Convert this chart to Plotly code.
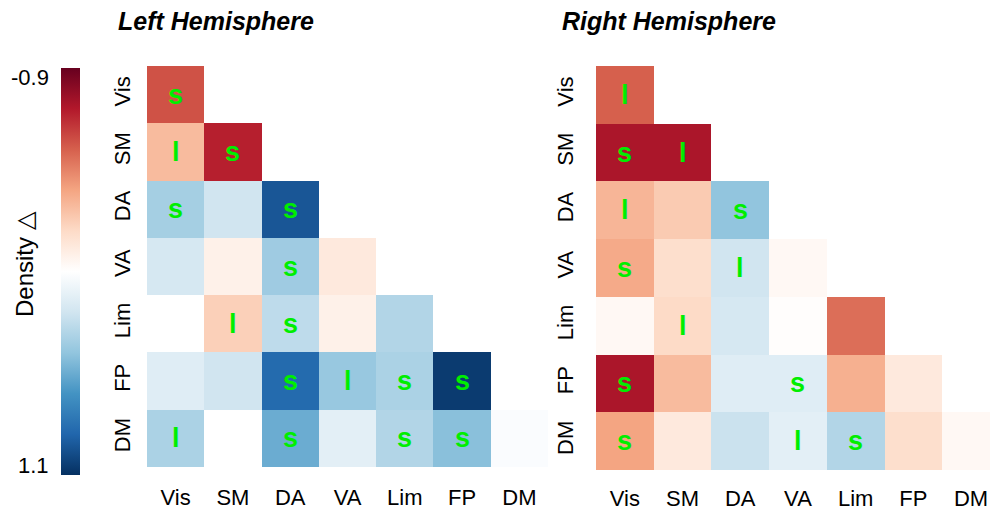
import plotly.graph_objects as go

networks = ["Vis", "SM", "DA", "VA", "Lim", "FP", "DM"]

# Density delta (lower triangle, row by row); -0.9 = dark red, 1.1 = dark blue
left_vals = [
    [-0.54],
    [-0.22, -0.68],
    [0.44, 0.30, 0.96],
    [0.28, 0.02, 0.46, -0.02],
    [0.10, -0.14, 0.36, 0.02, 0.40],
    [0.24, 0.30, 0.88, 0.48, 0.42, 1.06],
    [0.42, 0.10, 0.60, 0.22, 0.40, 0.52, 0.12],
]
right_vals = [
    [-0.50],
    [-0.72, -0.72],
    [-0.24, -0.16, 0.50],
    [-0.28, -0.08, 0.30, 0.06],
    [0.06, -0.10, 0.28, 0.09, -0.46],
    [-0.72, -0.22, 0.24, 0.24, -0.26, -0.02],
    [-0.30, -0.02, 0.32, 0.22, 0.40, -0.08, 0.06],
]
left_marks = [
    ["s"],
    ["l", "s"],
    ["s", "", "s"],
    ["", "", "s", ""],
    ["", "l", "s", "", ""],
    ["", "", "s", "l", "s", "s"],
    ["l", "", "s", "", "s", "s", ""],
]
right_marks = [
    ["l"],
    ["s", "l"],
    ["l", "", "s"],
    ["s", "", "l", ""],
    ["", "l", "", "", ""],
    ["s", "", "", "s", "", ""],
    ["s", "", "", "l", "s", "", ""],
]
cbar_min_label, cbar_max_label = "-0.9", "1.1"

# ColorBrewer-like RdBu (blue at low end of plotted value), white centre
brewer = ["#053061", "#2166ac", "#4393c3", "#92c5de", "#d1e5f0", "#ffffff",
          "#fddbc7", "#f4a582", "#d6604d", "#b2182b", "#67001f"]
colorscale = [[i / 10, c] for i, c in enumerate(brewer)]

W, H = 990, 515
FONT = "Liberation Sans, Arial, sans-serif"


def full(tri):
    n = len(networks)
    z = [[None] * n for _ in range(n)]
    for i, row in enumerate(tri):
        for j, v in enumerate(row):
            z[i][j] = -v  # flip so that the colorbar shows -0.9 at top
    return z


fig = go.Figure()
fig.add_trace(go.Heatmap(
    z=full(left_vals), x=networks, y=networks, xaxis="x", yaxis="y",
    colorscale=colorscale, zmin=-1.1, zmax=0.9, hoverongaps=False,
    colorbar=dict(x=61 / W, xanchor="left", y=1 - 271.5 / H, yanchor="middle",
                  thickness=19, thicknessmode="pixels", len=407, lenmode="pixels",
                  xpad=0, ypad=0, showticklabels=False, ticks="", outlinewidth=0),
))
fig.add_trace(go.Heatmap(
    z=full(right_vals), x=networks, y=networks, xaxis="x2", yaxis="y2",
    colorscale=colorscale, zmin=-1.1, zmax=0.9, showscale=False, hoverongaps=False,
))

annotations = []
for tri, xa, ya in [(left_marks, "x", "y"), (right_marks, "x2", "y2")]:
    for i, row in enumerate(tri):
        for j, m in enumerate(row):
            if m:
                annotations.append(dict(
                    x=networks[j], y=networks[i], xref=xa, yref=ya, text="<b>%s</b>" % m,
                    showarrow=False, font=dict(family=FONT, size=27, color="#00ee00")))

annotations += [
    dict(x=216 / W, y=1 - 21 / H, xref="paper", yref="paper", showarrow=False,
         xanchor="center", yanchor="middle",
         text="<b><i>Left Hemisphere</i></b>", font=dict(family=FONT, size=25, color="black")),
    dict(x=669 / W, y=1 - 21 / H, xref="paper", yref="paper", showarrow=False,
         xanchor="center", yanchor="middle",
         text="<b><i>Right Hemisphere</i></b>", font=dict(family=FONT, size=25, color="black")),
    dict(x=24 / W, y=1 - 264 / H, xref="paper", yref="paper", showarrow=False, textangle=-90,
         xanchor="center", yanchor="middle",
         text="Density △", font=dict(family=FONT, size=24, color="black")),
    dict(x=51 / W, y=1 - 77 / H, xref="paper", yref="paper", showarrow=False,
         xanchor="right", yanchor="middle",
         text=cbar_min_label, font=dict(family=FONT, size=22, color="black")),
    dict(x=51 / W, y=1 - 465 / H, xref="paper", yref="paper", showarrow=False,
         xanchor="right", yanchor="middle",
         text=cbar_max_label, font=dict(family=FONT, size=22, color="black")),
]

axis_font = dict(family=FONT, size=22, color="black")
common_x = dict(showgrid=False, zeroline=False, showline=False, ticks="outside",
                tickcolor="rgba(0,0,0,0)", tickfont=axis_font, type="category")
common_y = dict(showgrid=False, zeroline=False, showline=False, ticks="outside",
                tickcolor="rgba(0,0,0,0)", tickfont=axis_font, tickangle=-90, type="category")

right_cell = 57.7
fig.update_layout(
    width=W, height=H, margin=dict(l=0, r=0, t=0, b=0),
    paper_bgcolor="white", plot_bgcolor="white",
    showlegend=False, annotations=annotations,
    xaxis=dict(common_x, domain=[147 / W, 548 / W], range=[-0.5, 6.5], anchor="y", ticklen=11),
    yaxis=dict(common_y, domain=[(H - 467) / H, (H - 66) / H], range=[6.5, -0.5], anchor="x", ticklen=7),
    xaxis2=dict(common_x, domain=[596 / W, 1.0], range=[-0.5, -0.5 + (W - 596) / right_cell],
                anchor="y2", ticklen=9),
    yaxis2=dict(common_y, domain=[(H - 470) / H, (H - 66) / H], range=[6.5, -0.5], anchor="x2", ticklen=13),
)

fig.write_html("out.html")
